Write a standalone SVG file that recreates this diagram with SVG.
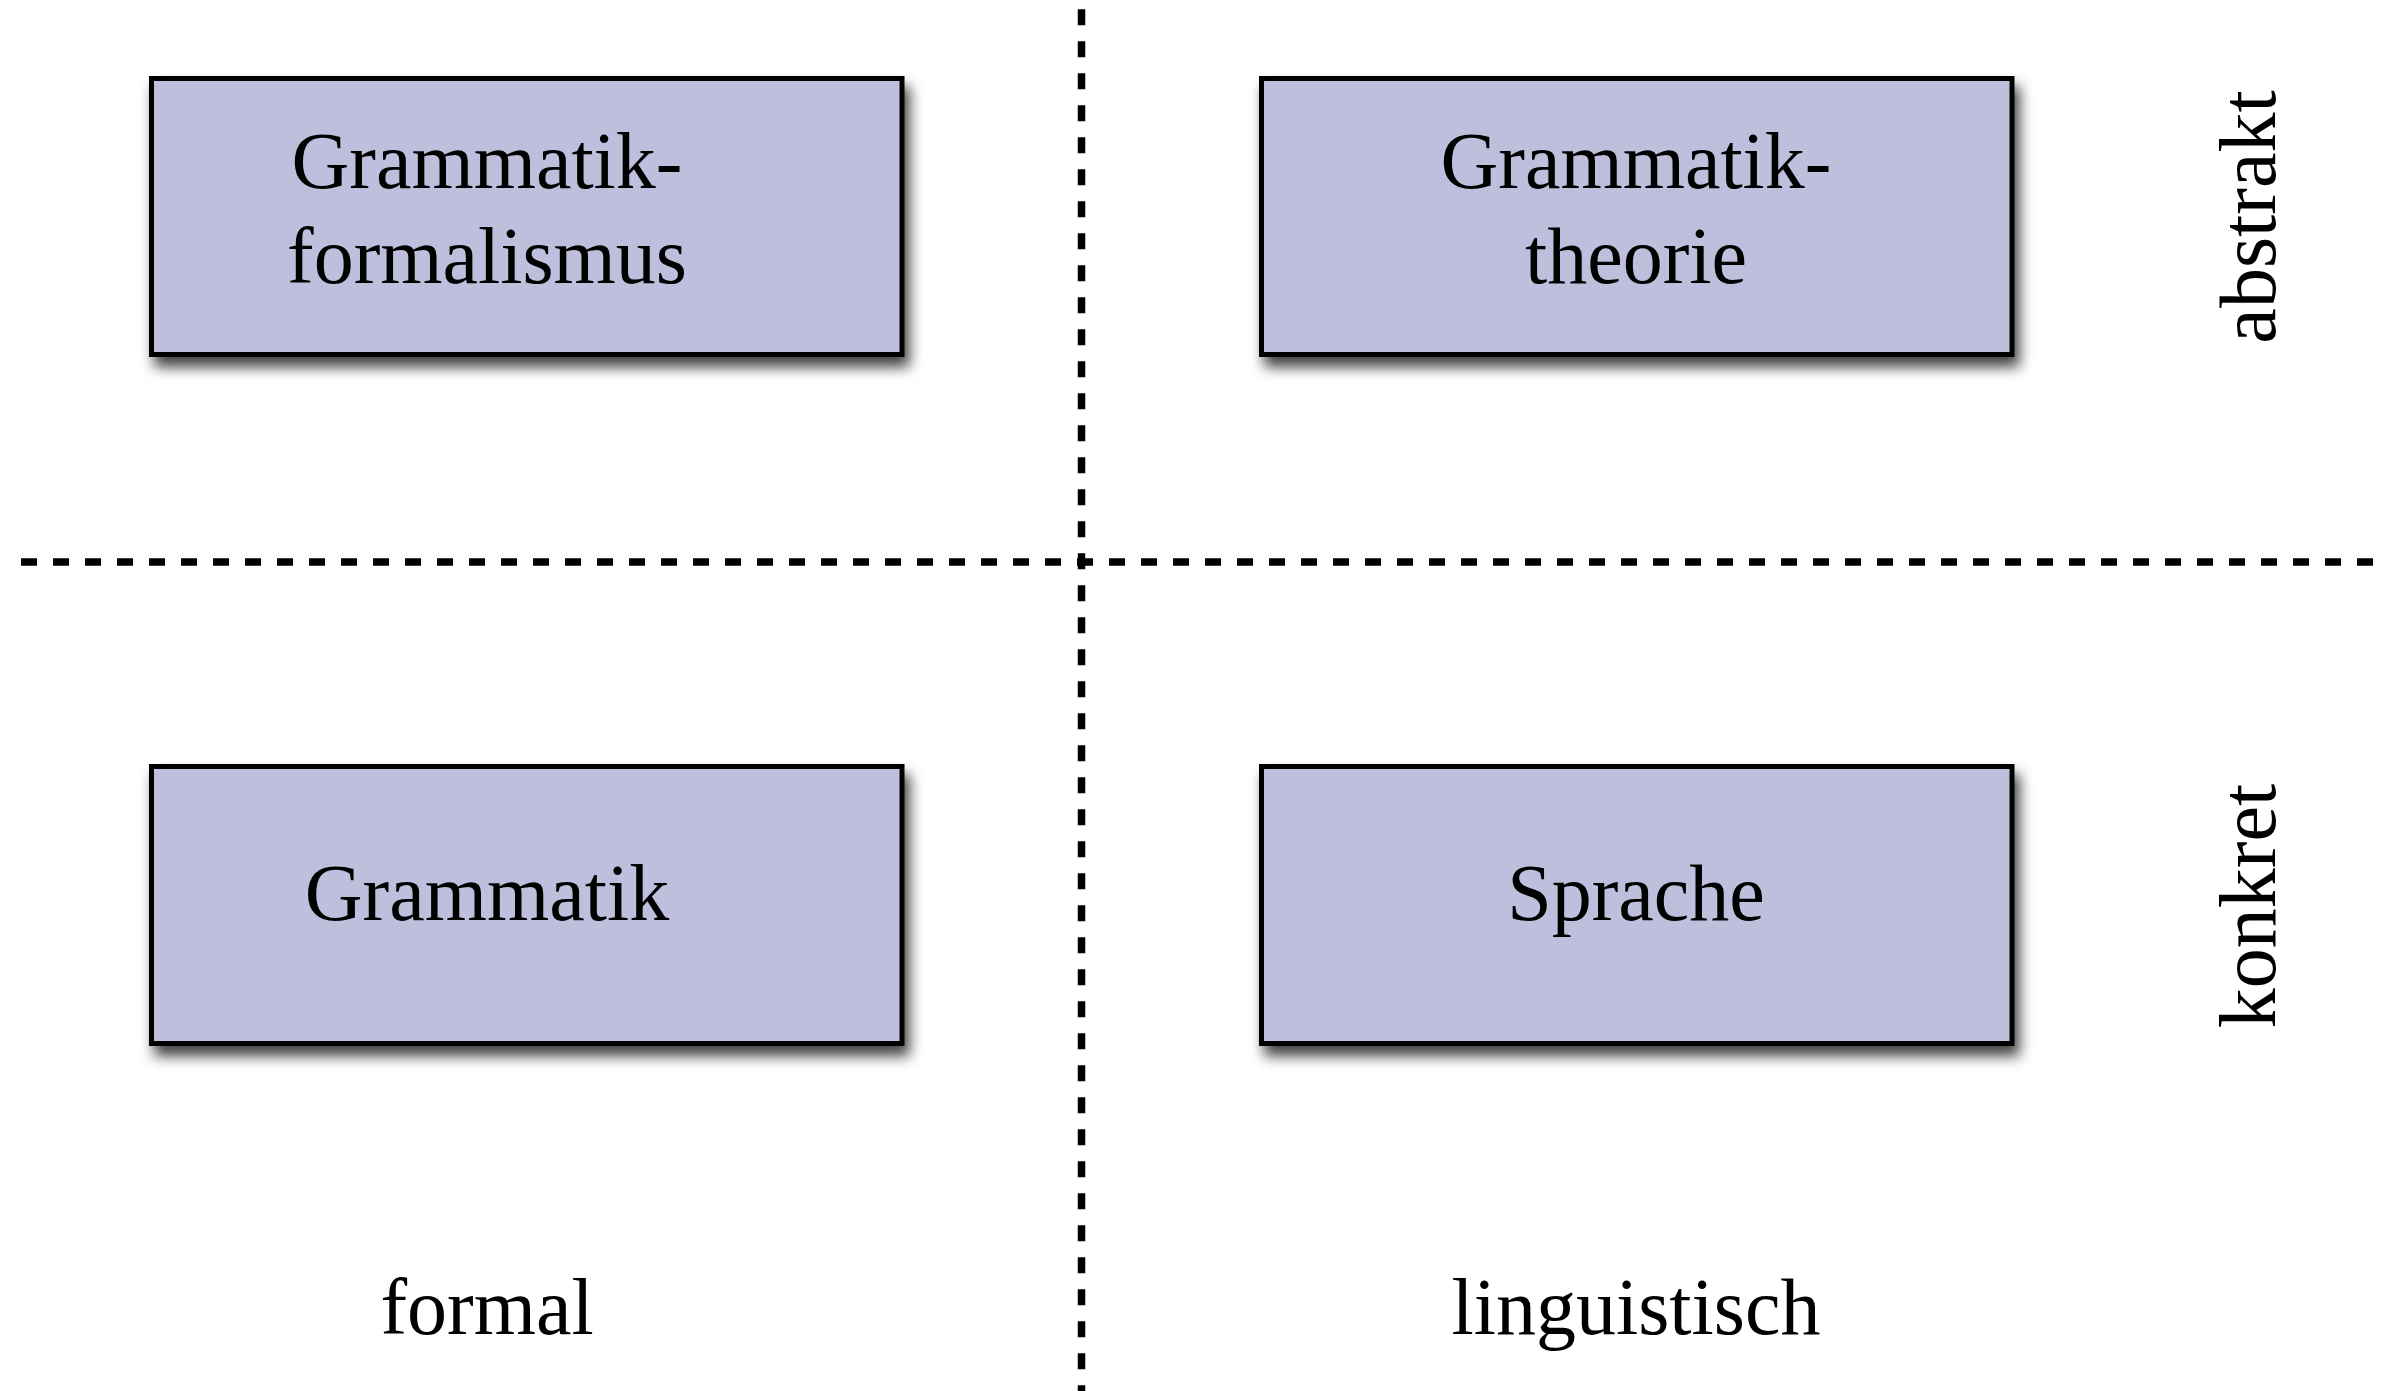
<svg xmlns="http://www.w3.org/2000/svg" width="2389" height="1391" viewBox="0 0 2389 1391">
  <defs>
    <filter id="shadow" x="-10%" y="-10%" width="125%" height="140%">
      <feDropShadow dx="5" dy="10" stdDeviation="7" flood-color="#000" flood-opacity="0.75"/>
    </filter>
  </defs>
  <style>
    .box { fill: #bebfdd; stroke: #000; stroke-width: 5; filter: url(#shadow); }
    .lbl { font-family: "Liberation Serif", "Times New Roman", serif; font-size: 80px; fill: #000; text-anchor: middle; }
    .div { stroke: #000; stroke-width: 7.5; stroke-dasharray: 16 16; fill: none; }
  </style>
  <rect width="2389" height="1391" fill="#fff"/>

  <g id="connectors">
    <line class="div" x1="21" y1="562" x2="2374" y2="562"/>
    <line class="div" x1="1081.5" y1="9.3" x2="1081.5" y2="1391"/>
  </g>

  <g id="node-grammatikformalismus">
    <rect class="box" x="151.5" y="78.5" width="750.5" height="276"/>
    <text class="lbl" x="487" y="188">Grammatik-</text>
    <text class="lbl" x="487" y="283">formalismus</text>
  </g>

  <g id="node-grammatiktheorie">
    <rect class="box" x="1261.5" y="78.5" width="750.5" height="276"/>
    <text class="lbl" x="1636" y="188">Grammatik-</text>
    <text class="lbl" x="1636" y="283">theorie</text>
  </g>

  <g id="node-grammatik">
    <rect class="box" x="151.5" y="766.5" width="750.5" height="277"/>
    <text class="lbl" x="487" y="920">Grammatik</text>
  </g>

  <g id="node-sprache">
    <rect class="box" x="1261.5" y="766.5" width="750.5" height="277"/>
    <text class="lbl" x="1636" y="920">Sprache</text>
  </g>

  <g id="axis-labels">
    <text class="lbl" x="487" y="1334">formal</text>
    <text class="lbl" x="1636" y="1334">linguistisch</text>
    <text class="lbl" transform="translate(2275,217) rotate(-90)">abstrakt</text>
    <text class="lbl" transform="translate(2275,906) rotate(-90)">konkret</text>
  </g>
</svg>
